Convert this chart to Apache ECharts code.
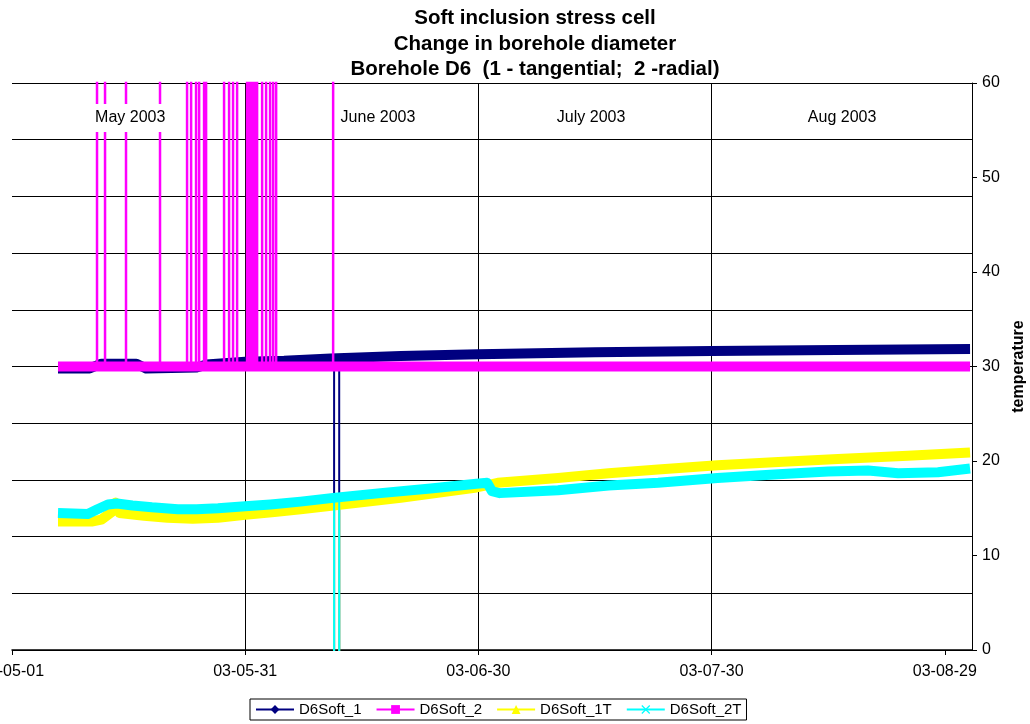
<!DOCTYPE html>
<html><head><meta charset="utf-8">
<script src="https://cdn.jsdelivr.net/npm/echarts@6/dist/echarts.min.js"></script>
<style>html,body{margin:0;padding:0;background:#fff}#c{width:1030px;height:724px}</style>
</head><body><div id="c"></div>
<script>
// ---------- data ----------
const titleLines = ['Soft inclusion stress cell', 'Change in borehole diameter', 'Borehole D6  (1 - tangential;  2 -radial)'];
const axisOrigin = '2003-05-01 00:00';
const xTickLabels = ['03-05-01', '03-05-31', '03-06-30', '03-07-30', '03-08-29'];
const yAxisName = 'temperature';
const seriesNames = ['D6Soft_1', 'D6Soft_2', 'D6Soft_1T', 'D6Soft_2T'];
const monthLabels = ['May 2003', 'June 2003', 'July 2003', 'Aug 2003'];

// D6Soft_1 (tangential)
const soft1Times = ['2003-05-06 22:00','2003-05-11 00:00','2003-05-12 12:00','2003-05-17 00:00','2003-05-18 06:00','2003-05-24 18:00','2003-05-26 00:00','2003-05-31 00:00','2003-06-05 00:00','2003-06-11 00:00','2003-06-20 00:00','2003-06-30 00:00','2003-07-15 00:00','2003-07-30 00:00','2003-08-15 00:00','2003-09-01 06:00'];
const soft1Values = [29.8,29.8,30.3,30.3,29.8,29.9,30.2,30.5,30.6,30.85,31.1,31.3,31.5,31.65,31.75,31.85];
const soft1DropTimes = ['2003-06-11 10:30','2003-06-11 10:30','2003-06-12 02:15','2003-06-12 02:15'];
const soft1DropValues = [30.85,-5,-5,30.9];

// D6Soft_2 (radial)
const soft2Times = ['2003-05-06 22:00','2003-05-20 00:00','2003-06-10 00:00','2003-07-01 00:00','2003-07-25 00:00','2003-08-15 00:00','2003-09-01 06:00'];
const soft2Values = [30,30,30,30,30,30,30];
const soft2SpikeTimes = ['2003-05-11 22:30','2003-05-12 23:15','2003-05-15 16:00','2003-05-20 01:00','2003-05-23 12:30','2003-05-24 01:00','2003-05-24 16:15','2003-05-25 01:45','2003-05-25 17:00','2003-05-25 23:15','2003-05-28 06:45','2003-05-28 22:15','2003-05-29 10:30','2003-05-29 23:00','2003-05-31 05:45','2003-05-31 12:00','2003-05-31 18:15','2003-06-01 00:30','2003-06-01 06:30','2003-06-01 12:45','2003-06-02 04:15','2003-06-02 16:30','2003-06-03 04:45','2003-06-03 14:15','2003-06-03 23:30','2003-06-11 07:30'];
const soft2SpikeValues = [99,99,99,99,99,99,99,99,99,99,99,99,99,99,99,99,99,99,99,99,99,99,99,99,99,99];

// D6Soft_1T
const soft1TTimes = ['2003-05-06 22:00','2003-05-11 06:00','2003-05-12 12:00','2003-05-13 20:00','2003-05-14 08:00','2003-05-14 20:00','2003-05-18 00:00','2003-05-21 00:00','2003-05-24 06:00','2003-05-27 12:00','2003-05-31 00:00','2003-06-03 18:00','2003-06-07 03:00','2003-06-11 08:00','2003-06-20 00:00','2003-06-29 18:00','2003-07-01 12:00','2003-07-02 12:00','2003-07-10 06:00','2003-07-16 18:00','2003-07-23 03:00','2003-07-30 18:00','2003-08-07 14:00','2003-08-15 06:00','2003-08-24 06:00','2003-09-01 06:00'];
const soft1TValues = [13.6,13.6,13.8,14.6,15.6,14.5,14.2,14.0,13.9,14.0,14.3,14.6,14.9,15.3,16.1,17.2,17.5,17.7,18.2,18.7,19.1,19.55,19.9,20.2,20.55,20.9];
const soft1TDropTimes = ['2003-06-11 10:30','2003-06-11 10:30','2003-06-12 02:15','2003-06-12 02:15'];
const soft1TDropValues = [15.3,-5,-5,15.35];

// D6Soft_2T
const soft2TTimes = ['2003-05-06 22:00','2003-05-10 18:00','2003-05-12 00:00','2003-05-13 08:00','2003-05-14 12:00','2003-05-16 12:00','2003-05-19 00:00','2003-05-22 08:00','2003-05-24 18:00','2003-05-27 12:00','2003-05-31 00:00','2003-06-03 06:00','2003-06-07 03:00','2003-06-11 08:00','2003-06-17 10:00','2003-06-23 20:00','2003-06-29 18:00','2003-07-01 03:00','2003-07-01 18:00','2003-07-02 18:00','2003-07-10 06:00','2003-07-16 18:00','2003-07-23 03:00','2003-07-30 18:00','2003-08-07 14:00','2003-08-14 00:00','2003-08-19 03:00','2003-08-23 00:00','2003-08-28 03:00','2003-09-01 06:00'];
const soft2TValues = [14.5,14.4,14.9,15.4,15.5,15.3,15.1,14.9,14.9,15.0,15.2,15.4,15.7,16.1,16.6,17.1,17.6,17.7,16.8,16.6,16.9,17.4,17.7,18.2,18.6,18.9,19.0,18.7,18.8,19.2];
const soft2TDropTimes = ['2003-06-11 10:30','2003-06-11 10:30','2003-06-12 02:15','2003-06-12 02:15'];
const soft2TDropValues = [16.1,-5,-5,16.15];

// ---------- build ----------
function toDay(s) {
  const [d, t] = s.split(' ');
  const [Y, M, D] = d.split('-').map(Number);
  const [h, m] = (t || '00:00').split(':').map(Number);
  const [oY, oM, oD] = axisOrigin.split(' ')[0].split('-').map(Number);
  return (Date.UTC(Y, M - 1, D, h, m) - Date.UTC(oY, oM - 1, oD)) / 864e5;
}
function pairs(times, values) { return times.map((t, i) => [toDay(t), values[i]]); }
function spikes(times, values, base) {
  const out = [];
  times.forEach((t, i) => { const x = toDay(t); out.push([x, base], [x, values[i]], [x, base]); });
  return out;
}
const monthAnchors = [['2003-05-16 05:00', 56.3], ['2003-06-17 02:00', 56.3], ['2003-07-14 12:00', 56.3], ['2003-08-15 19:00', 56.3]];

const FONT = '"Liberation Sans", Arial, sans-serif';
const colors = ['#000080', '#FF00FF', '#FFFF00', '#00FFFF'];
const xPath = 'path://M0,1L1,0L5,4L9,0L10,1L6,5L10,9L9,10L5,6L1,10L0,9L4,5Z';
const symbols = ['diamond', 'rect', 'triangle', xPath];
const spikeWidths = [2, 2.5, 2, 2];

const bandData = [pairs(soft1Times, soft1Values), pairs(soft2Times, soft2Values), pairs(soft1TTimes, soft1TValues), pairs(soft2TTimes, soft2TValues)];
const spikeData = [pairs(soft1DropTimes, soft1DropValues), spikes(soft2SpikeTimes, soft2SpikeValues, 30), pairs(soft1TDropTimes, soft1TDropValues), pairs(soft2TDropTimes, soft2TDropValues)];

const series = [];
for (let i = 0; i < 4; i++) {
  series.push({
    name: seriesNames[i], type: 'line', data: bandData[i], yAxisIndex: 0,
    symbol: symbols[i], symbolSize: 9, showSymbol: false, clip: true,
    itemStyle: { color: colors[i] },
    lineStyle: { color: colors[i], width: 10, cap: 'butt', join: 'round' },
    emphasis: { disabled: true }, silent: true, z: 2 + i * 0.01
  });
  series.push({
    name: seriesNames[i], type: 'line', data: spikeData[i], yAxisIndex: 0,
    symbol: 'none', clip: true,
    itemStyle: { color: colors[i] },
    lineStyle: { color: colors[i], width: spikeWidths[i] },
    emphasis: { disabled: true }, silent: true, z: 2 + i * 0.01 + 0.005
  });
}

const chart = echarts.init(document.getElementById('c'), null, { renderer: 'canvas' });
chart.setOption({
  animation: false,
  backgroundColor: '#fff',
  title: {
    text: titleLines.join('\n'), left: 535, top: 6, textAlign: 'center', padding: 0,
    textStyle: { fontFamily: FONT, fontWeight: 'bold', fontSize: 20.5, lineHeight: 25.5, color: '#000' }
  },
  grid: { left: 12, right: 58, top: 83, bottom: 74, containLabel: false, outerBoundsMode: 'none' },
  legend: {
    data: seriesNames, left: 250, top: 699, orient: 'horizontal',
    padding: [3, 5], itemGap: 14, itemWidth: 38, itemHeight: 11,
    borderColor: '#000', borderWidth: 1, borderRadius: 0, backgroundColor: '#fff',
    textStyle: { fontFamily: FONT, fontSize: 15, color: '#000' },
    lineStyle: { width: 2 }, selectedMode: false
  },
  xAxis: {
    type: 'value', min: 0, max: 123.5, interval: 30,
    axisLine: { show: true, onZero: false, lineStyle: { color: '#000', width: 1.5 } },
    axisTick: { show: true, length: 5, inside: false, lineStyle: { color: '#000' } },
    axisLabel: { fontFamily: FONT, fontSize: 16, color: '#000', margin: 14, showMaxLabel: false, hideOverlap: false,
      formatter: v => (Math.abs(v / 30 - Math.round(v / 30)) < 1e-6 ? (xTickLabels[Math.round(v / 30)] || '') : '') },
    splitLine: { show: true, showMinLine: false, showMaxLine: false,
      lineStyle: { color: ['#000', '#000', '#000', 'rgba(0,0,0,0)', 'rgba(0,0,0,0)'], width: 1 } }
  },
  yAxis: [
    {
      type: 'value', position: 'right', min: 0, max: 60, interval: 10,
      name: yAxisName, nameLocation: 'middle', nameRotate: 90, nameGap: 38,
      nameTextStyle: { fontFamily: FONT, fontSize: 16, fontWeight: 'bold', color: '#000' },
      axisLine: { show: true, onZero: false, lineStyle: { color: '#000', width: 1 } },
      axisTick: { show: true, length: 5, lineStyle: { color: '#000' } },
      axisLabel: { fontFamily: FONT, fontSize: 16, color: '#000', margin: 10 },
      splitLine: { show: false }
    },
    {
      type: 'value', position: 'left', min: 0, max: 60, interval: 6,
      axisLine: { show: false, onZero: false }, axisTick: { show: false }, axisLabel: { show: false },
      splitLine: { show: true, lineStyle: { color: '#000', width: 1 } }
    }
  ],
  series: series
});

// month captions placed through the chart's own coordinate system
chart.setOption({
  graphic: monthAnchors.map((a, i) => {
    const p = chart.convertToPixel({ xAxisIndex: 0, yAxisIndex: 0 }, [toDay(a[0]), a[1]]);
    return {
      type: 'text', x: p[0], y: p[1], z: 100, silent: true,
      style: { text: monthLabels[i], fill: '#000', font: '16px ' + FONT, align: 'center', verticalAlign: 'middle',
               backgroundColor: '#fff', padding: [6, 2] }
    };
  })
});
</script></body></html>
